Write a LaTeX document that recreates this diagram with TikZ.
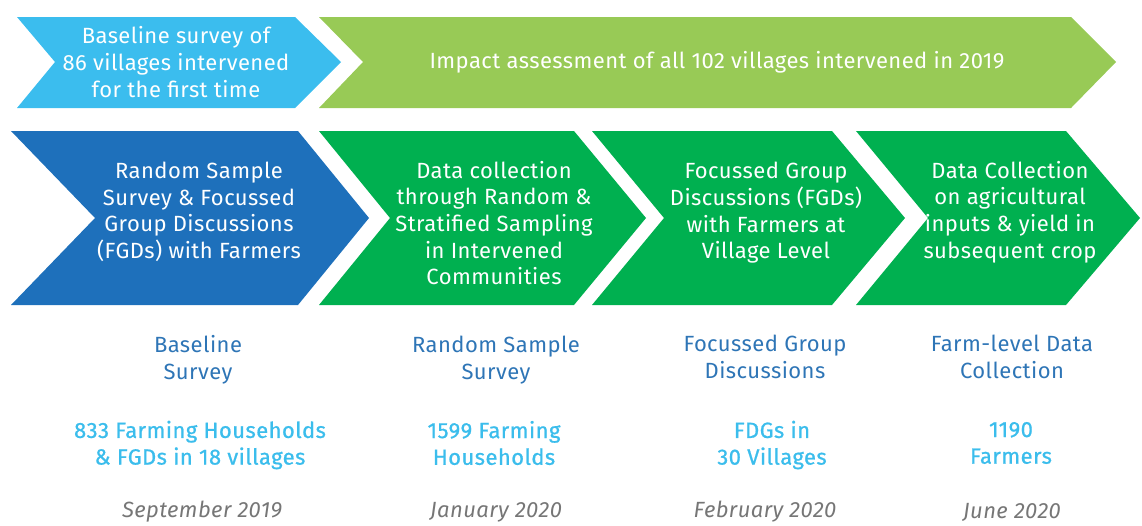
\documentclass[tikz,border=0pt]{standalone}
\usepackage{fontspec}
\setmainfont{Fira Sans}[LetterSpace=2]
\tikzset{every picture/.style={line width=0.75pt}}
\tikzset{
  boxtext/.style={align=center,text=white,font=\fontsize{16.5}{20}\selectfont},
  titletext/.style={align=center,text={rgb,255:red,46;green,117;blue,182},font=\fontsize{16.5}{20}\selectfont},
  numtext/.style={align=center,text={rgb,255:red,59;green,189;blue,236},font=\fontsize{16.5}{20}\selectfont\addfontfeatures{FakeBold=0.8}},
  datetext/.style={align=center,text={rgb,255:red,118;green,118;blue,118},font=\fontsize{16.5}{20}\selectfont\itshape}
}

\begin{document}
\begin{tikzpicture}[x=0.75pt,y=0.75pt,yscale=-1,xscale=1]
\useasboundingbox (0,0) rectangle (1142,525);

%Shape: Chevron [id:baseline]
\draw [draw opacity=0][fill={rgb, 255:red, 59; green, 189; blue, 238 }  ,fill opacity=1 ]   (17,17) -- (295,17) -- (341,62) -- (295,108) -- (17,108) -- (55,62) -- cycle ;
%Shape: Chevron [id:impact]
\draw [draw opacity=0][fill={rgb, 255:red, 152; green, 202; blue, 86 }  ,fill opacity=1 ]   (319,17) -- (1071,17) -- (1116,62) -- (1071,108) -- (319,108) -- (363,62) -- cycle ;

%Shape: Chevron [id:stepone]
\draw [draw opacity=0][fill={rgb, 255:red, 30; green, 112; blue, 187 }  ,fill opacity=1 ]   (11,131) -- (298,131) -- (369,218) -- (298,305) -- (11,305) -- (95,218) -- cycle ;
%Shape: Chevron [id:steptwo]
\draw [draw opacity=0][fill={rgb, 255:red, 0; green, 176; blue, 80 }  ,fill opacity=1 ]   (319,131) -- (574,131) -- (646,218) -- (574,305) -- (319,305) -- (390,218) -- cycle ;
%Shape: Chevron [id:stepthree]
\draw [draw opacity=0][fill={rgb, 255:red, 0; green, 176; blue, 80 }  ,fill opacity=1 ]   (592,131) -- (832,131) -- (905,218) -- (832,305) -- (592,305) -- (664,218) -- cycle ;
%Shape: Chevron [id:stepfour]
\draw [draw opacity=0][fill={rgb, 255:red, 0; green, 176; blue, 80 }  ,fill opacity=1 ]   (856,131) -- (1066,131) -- (1140,218) -- (1066,305) -- (856,305) -- (928,218) -- cycle ;

% Top row texts
\node [boxtext] (baselinetxt) at (176,62) {Baseline survey of\\86 villages intervened\\for the first time};
\node [boxtext] (impacttxt) at (717,62) {Impact assessment of all 102 villages intervened in 2019};

% Step texts
\node [boxtext] (steponetxt) at (199,212) {Random Sample\\Survey \& Focussed\\Group Discussions\\(FGDs) with Farmers};
\node [boxtext] (steptwotxt) at (494,223) {Data collection\\through Random \&\\Stratified Sampling\\in Intervened\\Communities};
\node [boxtext] (stepthreetxt) at (766,213) {Focussed Group\\Discussions (FGDs)\\with Farmers at\\Village Level};
\node [boxtext] (stepfourtxt) at (1010,212) {Data Collection\\on agricultural\\inputs \& yield in\\subsequent crop};

% Method titles
\node [titletext] (titleone) at (198,360) {Baseline\\Survey};
\node [titletext] (titletwo) at (496,360) {Random Sample\\Survey};
\node [titletext] (titlethree) at (765,357) {Focussed Group\\Discussions};
\node [titletext] (titlefour) at (1012,357) {Farm-level Data\\Collection};

% Sample sizes
\node [numtext] (numone) at (200,445) {833 Farming Households\\\& FGDs in 18 villages};
\node [numtext] (numtwo) at (494,443) {1599 Farming\\Households};
\node [numtext] (numthree) at (772,445) {FDGs in\\30 Villages};
\node [numtext] (numfour) at (1011,443) {1190\\Farmers};

% Dates
\node [datetext] (dateone) at (202,512) {September 2019};
\node [datetext] (datetwo) at (496,512) {January 2020};
\node [datetext] (datethree) at (765,512) {February 2020};
\node [datetext] (datefour) at (1012,512) {June 2020};
\end{tikzpicture}
\end{document}
